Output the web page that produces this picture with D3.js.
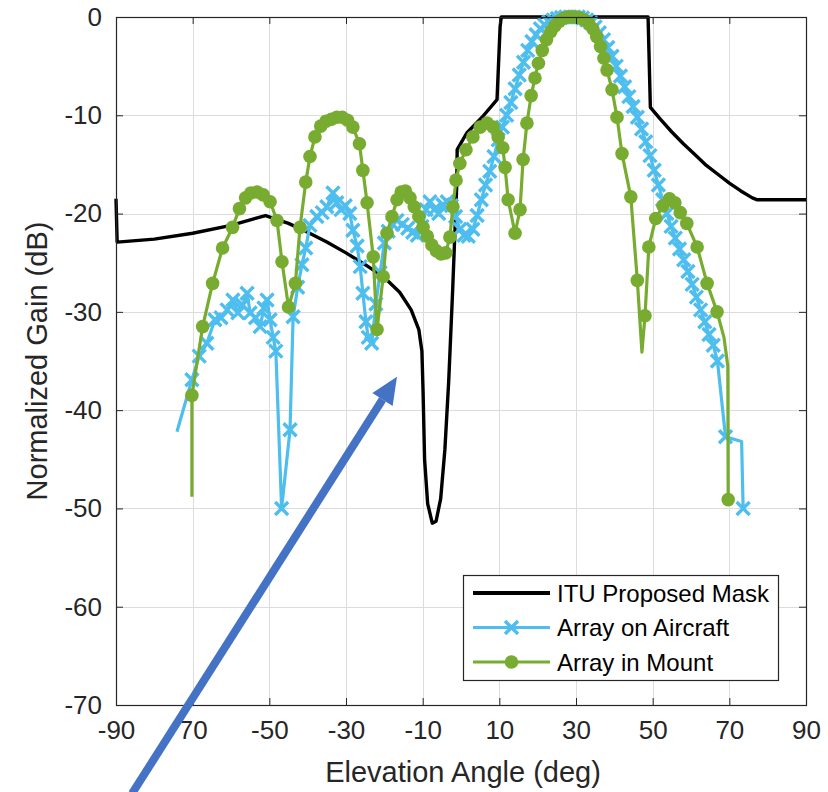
<!DOCTYPE html>
<html>
<head>
<meta charset="utf-8">
<script src="https://cdn.jsdelivr.net/npm/d3@7"></script>
<style>
  html, body { margin: 0; padding: 0; background: #fff; }
  svg { display: block; font-family: "Liberation Sans", Arial, sans-serif; }
</style>
</head>
<body>
<svg id="area" width="828" height="792"></svg>
<script>
// ITU proposed mask
const maskAngle = [-90, -89.7, -80, -70, -60, -51, -45, -40, -35, -30, -25, -20, -16, -13, -11, -10.2,
  -9.9, -9.5, -8.7, -7.5, -6.5, -5.3, -4.2, -3.2, -2.2, -1.4, -1.1, -1.0, 1.5, 5.5, 9.4, 10.2, 10.5,
  48.8, 49.4, 52, 55, 58, 61, 64, 67, 70, 73, 76, 77.3, 90];
const maskGain = [-18.5, -22.9, -22.6, -22.0, -21.2, -20.2, -21.0, -21.9, -22.9, -24.0, -25.2, -26.5,
  -28.0, -29.8, -31.8, -34.0, -38, -45, -49.5, -51.5, -51.3, -49, -44, -37, -28, -20, -17, -13.5, -11.8,
  -10.2, -8.4, -1, 0, 0, -9.2, -10.4, -11.7, -12.9, -14.0, -15.1, -16.0, -16.9, -17.7, -18.4, -18.6, -18.6];

// Array on Aircraft
const aircraftAngle = [-74.1, -70.2, -68.3, -66.3, -64.2, -62.6, -61, -59.5, -58.2, -57, -55.8, -55,
  -53.6, -52.4, -51.4, -50.6, -49.8, -49, -48.3, -46.8, -44.6, -43.8, -42.6, -41.5, -40.5, -39.4, -37.6,
  -36.2, -35, -33.4, -32.4, -31.3, -30.2, -29, -28.2, -27.1, -26.3, -25.6, -24.8, -24.2, -23.3, -22.2,
  -21.1, -20, -19, -17.8, -16.7, -15.3, -13.9, -12.6, -11.4, -10.2, -9.1, -8.1, -7, -5.8, -4.7, -3.6,
  -2.5, -1.4, -0.3, 0.8, 1.9, 3.1, 4.2, 5.3, 6.4, 7.5, 8.6, 9.7, 10.8, 11.9, 13, 14.1, 15.2, 16.3, 17.4,
  18.5, 19.6, 20.7, 21.8, 22.9, 24, 25.1, 26.2, 27.3, 28.4, 29.5, 30.6, 31.7, 32.8, 33.9, 35, 36.1, 37.2,
  38.3, 39.4, 40.5, 41.6, 42.7, 43.8, 44.9, 46, 47.1, 48.2, 49.3, 50.4, 51.5, 52.6, 53.7, 54.8, 55.9,
  57, 58.1, 59.2, 60.3, 61.4, 62.5, 63.6, 64.7, 65.8, 66.9, 69, 73.2, 73.6];
const aircraftGain = [-42.2, -36.9, -34.5, -33.2, -30.8, -30.6, -29.8, -28.8, -30.1, -29.3, -28.1, -30.1,
  -30.6, -31.5, -29.6, -28.8, -30.8, -32.6, -34, -50, -42, -30.5, -27.5, -25.2, -23.5, -21.2, -20.3,
  -19.9, -19.3, -17.9, -18.9, -19.6, -19.2, -20, -21.7, -23.3, -25.4, -28.1, -31, -32.6, -33.2, -29.2,
  -26, -23, -21.8, -21.1, -20.7, -21.1, -21.5, -21.9, -22.2, -21.3, -19.6, -18.8, -19.6, -20, -19.1, -18.8,
  -19.2, -20.3, -21.6, -22.2, -22.3, -21.6, -20.2, -18.6, -17.1, -15.7, -14.2, -12.5, -11.2, -10, -8.7,
  -7.3, -5.9, -4.6, -3.4, -2.5, -1.8, -1.2, -0.8, -0.5, -0.3, -0.15, -0.05, 0, 0, 0, 0, -0.1, -0.3, -0.6,
  -1, -1.6, -2.3, -3.1, -4, -5, -6, -7.1, -8.1, -9.1, -10.2, -11.4, -12.7, -14.1, -15.6, -17.1, -18.6,
  -20, -21.3, -22.5, -23.6, -24.7, -25.9, -27.2, -28.5, -29.8, -31, -32.3, -33.4, -35, -42.7, -43.2, -50];

// Array in Mount
const mountAngle = [-70.2, -70.2, -67.4, -64.8, -62.2, -59.6, -57.8, -56.2, -54.8, -53.2, -51.6, -49.8,
  -48, -46.7, -45, -43.2, -42, -40.5, -39.4, -38.1, -36.6, -35.2, -33.8, -32.4, -31, -29.6, -28.2, -26.5,
  -25.6, -24.5, -22.9, -21.9, -20.3, -19.3, -18, -16.7, -15.6, -14.5, -13.3, -12.2, -11, -9.9, -8.8, -7.6,
  -6.4, -5.2, -4, -2.9, -2.1, -1.3, -0.3, 1.3, 3.1, 5, 6.8, 8.4, 9.7, 10.9, 11.5, 12.3, 14.1, 15.4, 16.2,
  17.2, 18.3, 19.3, 20.2, 21.2, 22.3, 23.4, 24.5, 25.6, 26.7, 27.8, 28.9, 30, 31.1, 32.2, 33.3, 34.4, 35.4,
  36.4, 37.3, 38.1, 39.4, 40.7, 42, 44.3, 46, 47.2, 48, 49, 50.8, 52.7, 54.4, 55.8, 57.2, 58.9, 61.6, 64.2,
  66.8, 68.6, 69.6, 69.7];
const mountGain = [-48.8, -38.5, -31.5, -27.1, -23.5, -21.4, -19.5, -18.4, -17.9, -17.8, -18.1, -18.8,
  -20.7, -24.9, -29.5, -27.1, -21.4, -16.8, -14.2, -12.2, -11.1, -10.6, -10.4, -10.2, -10.2, -10.5, -11.2,
  -12.9, -15.6, -18.9, -24.4, -31.8, -26.4, -22, -20.3, -18.6, -17.8, -17.7, -18.4, -19.3, -20.3, -21.4,
  -22.3, -23.2, -23.8, -24.1, -24, -22.4, -19.3, -16.6, -14.9, -13.5, -12.2, -11.2, -10.8, -11.2, -12.2,
  -13.3, -15.3, -18.6, -22, -19.6, -14.5, -10.8, -8, -6.2, -4.7, -3.4, -2.3, -1.5, -0.9, -0.45, -0.15, 0,
  0, 0, -0.1, -0.3, -0.65, -1.2, -2, -3, -4.2, -5.4, -7.4, -10.2, -13.9, -18.3, -26.8, -34.1, -30.4, -23.4,
  -20.5, -19.2, -18.5, -18.9, -19.9, -21, -23.4, -27.1, -30, -32.6, -35.5, -49.1];
// line points that carry no marker: [angle, gain]
const aircraftBare = [[-74.1, -42.2], [73.2, -43.2]];
const mountBare = [[-70.2, -48.8], [47.2, -34.1], [68.6, -32.6], [69.6, -35.5]];

const xTicks = [-90, -70, -50, -30, -10, 10, 30, 50, 70, 90];
const xTickLabels = ['-90', '70', '-50', '-30', '-10', '10', '30', '50', '70', '90'];
const yTicks = [-70, -60, -50, -40, -30, -20, -10, 0];

const seriesNames = ['ITU Proposed Mask', 'Array on Aircraft', 'Array in Mount'];
// annotation arrow: tail and tip, in axis units
const arrowAngle = [-85.8, -16.7];
const arrowGain = [-79, -36.6];

const svg = d3.select('#area');
const plotLeft = 116;
const plotRight = 806;
const plotTop = 17;
const plotBottom = 705;
const ink = '#262626';
const colors = ['#000000', '#4DBEEE', '#77AC30'];

const x = d3.scaleLinear().domain([-90, 90]).range([plotLeft, plotRight]);
const y = d3.scaleLinear().domain([-70, 0]).range([plotBottom, plotTop]);

const isBare = (list) => (d) => list.some((b) => b[0] === d[0] && b[1] === d[1]);

// grid
const grid = svg.append('g').attr('stroke', '#dcdcdc').attr('stroke-width', 1);
grid.selectAll('line.vx').data(xTicks.slice(1, -1)).join('line')
  .attr('class', 'vx')
  .attr('x1', (d) => Math.round(x(d)) + 0.5).attr('x2', (d) => Math.round(x(d)) + 0.5)
  .attr('y1', plotTop).attr('y2', plotBottom);
grid.selectAll('line.hy').data(yTicks.slice(1, -1)).join('line')
  .attr('class', 'hy')
  .attr('y1', (d) => Math.round(y(d)) + 0.5).attr('y2', (d) => Math.round(y(d)) + 0.5)
  .attr('x1', plotLeft).attr('x2', plotRight);

const plot = svg.append('g');
const line = d3.line().x((d) => x(d[0])).y((d) => y(d[1]));

const mask = d3.zip(maskAngle, maskGain);
const aircraft = d3.zip(aircraftAngle, aircraftGain);
const mount = d3.zip(mountAngle, mountGain);

plot.append('path').datum(mask)
  .attr('fill', 'none').attr('stroke', colors[0]).attr('stroke-width', 3.4)
  .attr('stroke-linejoin', 'round')
  .attr('d', line);

const xMark = (g, cx, cy, s) => {
  g.append('path')
    .attr('d', `M${cx - s},${cy - s}L${cx + s},${cy + s}M${cx - s},${cy + s}L${cx + s},${cy - s}`);
};

plot.append('path').datum(aircraft)
  .attr('fill', 'none').attr('stroke', colors[1]).attr('stroke-width', 3.2)
  .attr('stroke-linejoin', 'round')
  .attr('d', line);
const crosses = plot.append('g').attr('stroke', colors[1]).attr('stroke-width', 3.4).attr('fill', 'none');
aircraft.filter((d) => !isBare(aircraftBare)(d))
  .forEach((d) => xMark(crosses, x(d[0]), y(d[1]), 6.5));

plot.append('path').datum(mount)
  .attr('fill', 'none').attr('stroke', colors[2]).attr('stroke-width', 3.2)
  .attr('stroke-linejoin', 'round')
  .attr('d', line);
plot.append('g').selectAll('circle')
  .data(mount.filter((d) => !isBare(mountBare)(d)))
  .join('circle')
  .attr('cx', (d) => x(d[0])).attr('cy', (d) => y(d[1]))
  .attr('r', 6.8)
  .attr('fill', colors[2]);

// axes with inward ticks, box on
const fontSize = 26;
const xAxis = d3.axisBottom(x).tickValues(xTicks)
  .tickFormat((d, i) => xTickLabels[i]).tickSizeInner(-7).tickSizeOuter(0).tickPadding(16);
const yAxis = d3.axisLeft(y).tickValues(yTicks)
  .tickFormat((d) => `${d}`).tickSizeInner(-7).tickSizeOuter(0).tickPadding(14);

const styleAxis = (g) => {
  g.select('.domain').remove();
  g.selectAll('.tick line').attr('stroke', ink);
  g.selectAll('.tick text').attr('fill', ink)
    .style('font-size', `${fontSize}px`).style('font-family', '"Liberation Sans", Arial, sans-serif');
};
svg.append('g').attr('transform', `translate(0,${plotBottom})`).call(xAxis).call(styleAxis);
svg.append('g').attr('transform', `translate(${plotLeft},0)`).call(yAxis).call(styleAxis);
svg.append('g').attr('transform', `translate(0,${plotTop})`)
  .call(d3.axisTop(x).tickValues(xTicks).tickFormat('').tickSizeInner(-7).tickSizeOuter(0))
  .call(styleAxis);
svg.append('g').attr('transform', `translate(${plotRight},0)`)
  .call(d3.axisRight(y).tickValues(yTicks).tickFormat('').tickSizeInner(-7).tickSizeOuter(0))
  .call(styleAxis);

svg.append('rect')
  .attr('x', plotLeft + 0.5).attr('y', plotTop + 0.5)
  .attr('width', plotRight - plotLeft).attr('height', plotBottom - plotTop)
  .attr('fill', 'none').attr('stroke', ink).attr('stroke-width', 1.2);

// axis labels
svg.append('text')
  .attr('x', 463).attr('y', 782)
  .attr('text-anchor', 'middle').attr('fill', ink)
  .style('font-size', '29px')
  .text('Elevation Angle (deg)');
svg.append('text')
  .attr('transform', `translate(47,${(plotTop + plotBottom) / 2}) rotate(-90)`)
  .attr('text-anchor', 'middle').attr('fill', ink)
  .style('font-size', '29px')
  .text('Normalized Gain (dB)');

// legend
const legend = svg.append('g').attr('transform', 'translate(463,575)');
legend.append('rect')
  .attr('x', 0.5).attr('y', 0.5).attr('width', 315).attr('height', 105)
  .attr('fill', '#fff').attr('stroke', ink).attr('stroke-width', 1.2);
const rows = legend.selectAll('g.row').data(seriesNames).join('g')
  .attr('class', 'row')
  .attr('transform', (d, i) => `translate(0,${18 + i * 34.5})`);
rows.append('line')
  .attr('x1', 10).attr('x2', 87).attr('y1', 0).attr('y2', 0)
  .attr('stroke', (d, i) => colors[i]).attr('stroke-width', (d, i) => (i === 0 ? 3.8 : 3.2));
rows.filter((d, i) => i === 1).each(function () {
  const g = d3.select(this).append('g').attr('stroke', colors[1]).attr('stroke-width', 3.4);
  xMark(g, 48.5, 0, 6.5);
});
rows.filter((d, i) => i === 2).append('circle')
  .attr('cx', 48.5).attr('cy', 0).attr('r', 6.8).attr('fill', colors[2]);
rows.append('text')
  .attr('x', 94).attr('y', 8.5).attr('fill', '#000')
  .style('font-size', '24px')
  .text((d) => d);

// annotation arrow
const ax0 = x(arrowAngle[0]);
const ay0 = y(arrowGain[0]);
const ax1 = x(arrowAngle[1]);
const ay1 = y(arrowGain[1]);
const ang = Math.atan2(ay1 - ay0, ax1 - ax0);
const headLen = 27;
const headHalf = 12;
const bx = ax1 - headLen * Math.cos(ang);
const by = ay1 - headLen * Math.sin(ang);
const px = -Math.sin(ang);
const py = Math.cos(ang);
svg.append('line')
  .attr('x1', ax0).attr('y1', ay0).attr('x2', bx).attr('y2', by)
  .attr('stroke', '#4472C4').attr('stroke-width', 8);
svg.append('path')
  .attr('d', `M${ax1},${ay1}L${bx + px * headHalf},${by + py * headHalf}L${bx - px * headHalf},${by - py * headHalf}Z`)
  .attr('fill', '#4472C4');
</script>
</body>
</html>
